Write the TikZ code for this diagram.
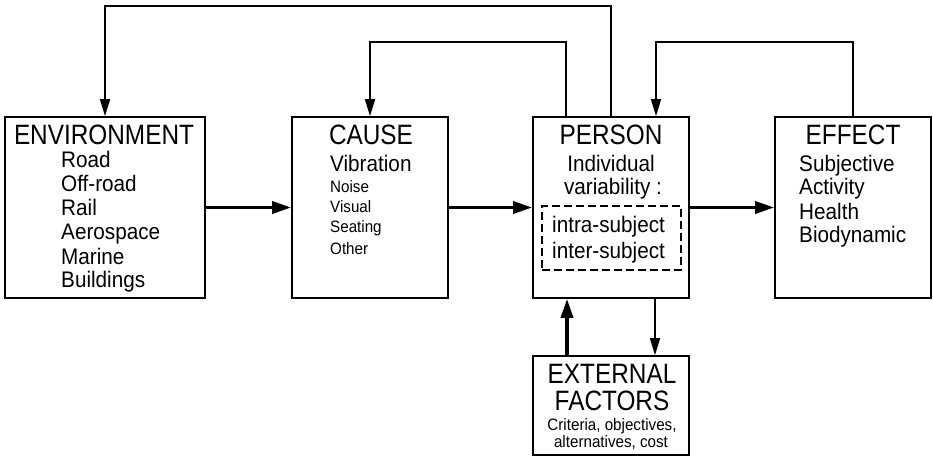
\documentclass[tikz,border=0pt]{standalone}
\usepackage{fontspec}
\setmainfont{Liberation Sans}
\newfontfamily\titlef[FakeStretch=0.87]{Liberation Sans}
\newfontfamily\subf[FakeStretch=0.92]{Liberation Sans}
\usetikzlibrary{arrows.meta}
\tikzset{
  box/.style={draw, line width=1.7pt, rectangle, inner sep=0pt},
  dbox/.style={draw, line width=1.3pt, dash pattern=on 8pt off 4pt, rectangle, inner sep=0pt},
  ttl/.style={anchor=base, inner sep=0pt, font=\titlef\fontsize{28}{28}\selectfont},
  subw/.style={anchor=base west, inner sep=0pt, font=\subf\fontsize{22.5}{22.5}\selectfont},
  subc/.style={anchor=base, inner sep=0pt, font=\subf\fontsize{22.5}{22.5}\selectfont},
  smallw/.style={anchor=base west, inner sep=0pt, font=\subf\fontsize{16.5}{16.5}\selectfont},
  smallc/.style={anchor=base, inner sep=0pt, font=\subf\fontsize{16.5}{16.5}\selectfont},
  conn/.style={line width=1.7pt, -{Triangle[length=17pt,width=10pt]}},
  thickconn/.style={line width=3.5pt, -{Triangle[length=19pt,width=12pt]}}
}
\begin{document}
\begin{tikzpicture}[x=1pt,y=-1pt]
\useasboundingbox (0,0) rectangle (933,462);
% boxes
\node[box, minimum width=200pt, minimum height=181pt] (env) at (105,207.5) {};
\node[box, minimum width=156pt, minimum height=181pt] (cause) at (370,207.5) {};
\node[box, minimum width=156pt, minimum height=181pt] (person) at (611,207.5) {};
\node[box, minimum width=156pt, minimum height=181pt] (effect) at (853,207.5) {};
\node[box, minimum width=156pt, minimum height=99pt] (ext) at (611,405.5) {};
\node[dbox, minimum width=139pt, minimum height=64pt] (var) at (611.5,238) {};
% ENVIRONMENT
\node[ttl] (envt) at (104,145) {ENVIRONMENT};
\node[subw] (e1) at (61,168) {Road};
\node[subw] (e2) at (61,192) {Off-road};
\node[subw] (e3) at (61,216) {Rail};
\node[subw] (e4) at (61,240) {Aerospace};
\node[subw] (e5) at (61,264) {Marine};
\node[subw] (e6) at (61,287) {Buildings};
% CAUSE
\node[ttl] (causet) at (371,145) {CAUSE};
\node[subw] (c1) at (330,172) {Vibration};
\node[smallw] (c2) at (330,193) {Noise};
\node[smallw] (c3) at (330,213) {Visual};
\node[smallw] (c4) at (330,233) {Seating};
\node[smallw] (c5) at (330,254) {Other};
% PERSON
\node[ttl] (persont) at (611,145) {PERSON};
\node[subc] (p1) at (611,172) {Individual};
\node[subc] (p2) at (613,195) {variability :};
\node[subw] (p3) at (552,233) {intra-subject};
\node[subw] (p4) at (552,258) {inter-subject};
% EFFECT
\node[ttl] (effectt) at (853,145) {EFFECT};
\node[subw] (f1) at (799,172) {Subjective};
\node[subw] (f2) at (799,195) {Activity};
\node[subw] (f3) at (799,219) {Health};
\node[subw] (f4) at (799,243) {Biodynamic};
% EXTERNAL FACTORS
\node[ttl] (extt1) at (612,383) {EXTERNAL};
\node[ttl] (extt2) at (612,410) {FACTORS};
\node[smallc] (x1) at (612,430) {Criteria, objectives,};
\node[smallc] (x2) at (611,447) {alternatives, cost};
% main flow
\draw[thickconn] (env.east) -- (cause.west);
\draw[thickconn] (cause.east) -- (person.west);
\draw[thickconn] (person.east) -- (effect.west);
% feedback loops
\draw[conn] (person.north) -- ++(0,-110) -| (env.north);
\draw[conn] ([xshift=-45pt]person.north) -- ++(0,-74) -| (cause.north);
\draw[conn] (effect.north) -- ++(0,-74) -| ([xshift=45pt]person.north);
% external factors
\draw[thickconn] ([xshift=-44pt]ext.north) -- ([xshift=-44pt]person.south);
\draw[conn] ([xshift=44pt]person.south) -- ([xshift=44pt]ext.north);
\end{tikzpicture}
\end{document}
